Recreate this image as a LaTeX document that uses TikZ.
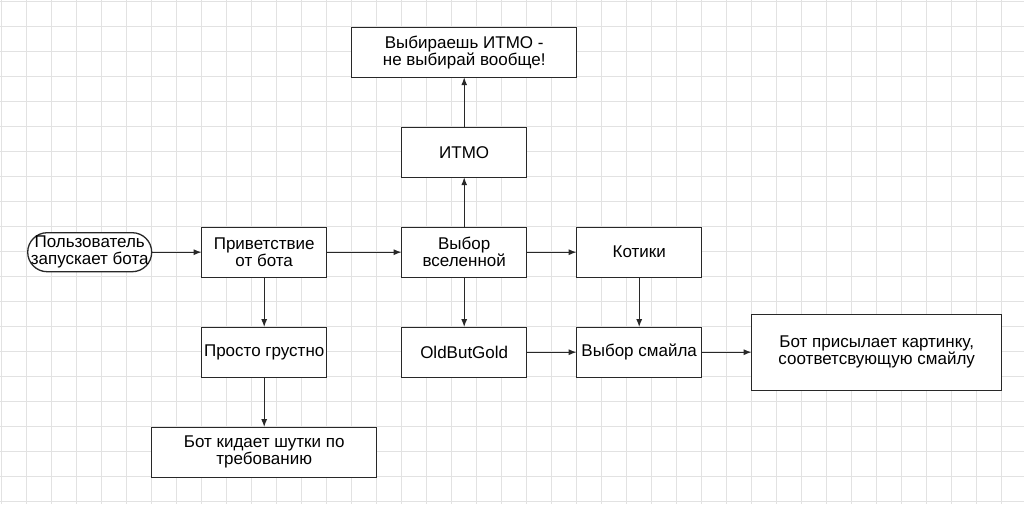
\documentclass[tikz,border=0pt]{standalone}
\usepackage{fontspec}
\setmainfont{Liberation Sans}
\usepackage{xcolor}
\usetikzlibrary{positioning,arrows.meta}

\definecolor{gridgray}{RGB}{226,226,226}
\definecolor{edgegray}{RGB}{40,40,40}

\tikzset{
    block/.style={draw=edgegray, line width=1.3pt, fill=white, minimum width=125pt,
        minimum height=50pt, align=center, inner sep=0pt, outer sep=0pt,
        font=\fontsize{17}{17}\selectfont},
    wideblock/.style={block, minimum width=225pt},
    startstop/.style={block, rounded corners=19.5pt, minimum width=124pt, minimum height=39pt},
    flow/.style={-{Latex[length=8pt,width=6pt]}, line width=1.3pt, draw=edgegray},
    gridline/.style={draw=gridgray, line width=1pt}
}

\begin{document}
\begin{tikzpicture}[x=1pt,y=-1pt]
    \useasboundingbox[fill=white] (0,0) rectangle (1024,504);
    \foreach \i in {0,...,40} \draw[gridline] (1.7+25*\i,0) -- (1.7+25*\i,504);
    \foreach \j in {0,...,20} \draw[gridline] (0,1.7+25*\j) -- (1024,1.7+25*\j);

    \node[block] (greet) at (264.2,252.2) {Приветствие\\от бота};
    \node[startstop, left=50pt of greet] (start)
        {\makebox[0pt]{Пользователь}\\\makebox[0pt]{запускает бота}};
    \node[block, below=50pt of greet] (sad) {Просто грустно};
    \node[wideblock, below=50pt of sad] (jokes) {Бот кидает шутки по\\требованию};
    \node[block, right=75pt of greet] (universe) {Выбор\\вселенной};
    \node[block, above=50pt of universe] (itmo) {ИТМО};
    \node[wideblock, above=50pt of itmo] (noitmo) {Выбираешь ИТМО -\\не выбирай вообще!};
    \node[block, below=50pt of universe] (oldgold) {OldButGold};
    \node[block, right=50pt of universe] (cats) {Котики};
    \node[block, below=50pt of cats] (smile) {Выбор смайла};
    \node[block, right=50pt of smile, minimum width=250pt, minimum height=76pt] (picture)
        {Бот присылает картинку,\\соответсвующую смайлу};

    \draw[flow] (start) -- (greet);
    \draw[flow] (greet) -- (universe);
    \draw[flow] (greet) -- (sad);
    \draw[flow] (sad) -- (jokes);
    \draw[flow] (universe) -- (itmo);
    \draw[flow] (itmo) -- (noitmo);
    \draw[flow] (universe) -- (oldgold);
    \draw[flow] (universe) -- (cats);
    \draw[flow] (cats) -- (smile);
    \draw[flow] (oldgold) -- (smile);
    \draw[flow] (smile) -- (picture);
\end{tikzpicture}
\end{document}
